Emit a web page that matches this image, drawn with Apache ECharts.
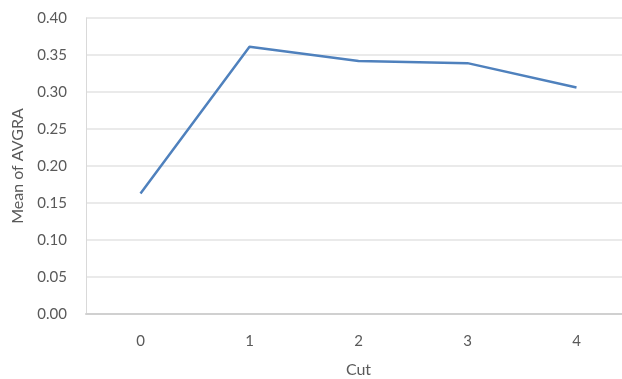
<!DOCTYPE html>
<html>
<head>
<meta charset="utf-8">
<script src="https://cdn.jsdelivr.net/npm/echarts@6/dist/echarts.min.js"></script>
<style>html,body{margin:0;padding:0;background:#fff;}#c{width:622px;height:379px;}</style>
</head>
<body>
<div id="c"></div>
<script>
var categories = ['0', '1', '2', '3', '4'];
var values = [0.163, 0.361, 0.342, 0.339, 0.306];
var yTicks = { min: 0, max: 0.40, interval: 0.05 };

var chart = echarts.init(document.getElementById('c'), null, { renderer: 'canvas' });
var fontFam = 'Lato, "Open Sans", sans-serif';
chart.setOption({
  animation: false,
  grid: { left: 86, top: 18, right: -9, bottom: 65, containLabel: false, outerBoundsMode: 'none' },
  xAxis: {
    type: 'category',
    data: categories,
    boundaryGap: true,
    name: 'Cut',
    nameLocation: 'middle',
    nameGap: 48,
    nameTextStyle: { color: '#595959', fontSize: 16, fontFamily: fontFam },
    axisLine: { lineStyle: { color: '#d0d0d0', width: 2 } },
    axisTick: { show: false },
    axisLabel: { color: '#595959', fontSize: 15, fontFamily: fontFam, margin: 20 }
  },
  yAxis: {
    type: 'value',
    min: yTicks.min,
    max: yTicks.max,
    interval: yTicks.interval,
    name: 'Mean of AVGRA',
    nameLocation: 'middle',
    nameGap: 60,
    nameTextStyle: { color: '#595959', fontSize: 16, fontFamily: fontFam },
    axisLine: { show: true, lineStyle: { color: '#d9d9d9', width: 1 } },
    axisTick: { show: false },
    axisLabel: { color: '#595959', fontSize: 15, fontFamily: fontFam, margin: 19,
      formatter: function (v) { return v.toFixed(2); } },
    splitLine: { lineStyle: { color: '#e3e3e3', width: 1.5 } }
  },
  series: [{
    type: 'line',
    data: values,
    symbol: 'none',
    lineStyle: { color: '#4f81bd', width: 2.5 },
    itemStyle: { color: '#4f81bd' }
  }]
});
</script>
</body>
</html>
